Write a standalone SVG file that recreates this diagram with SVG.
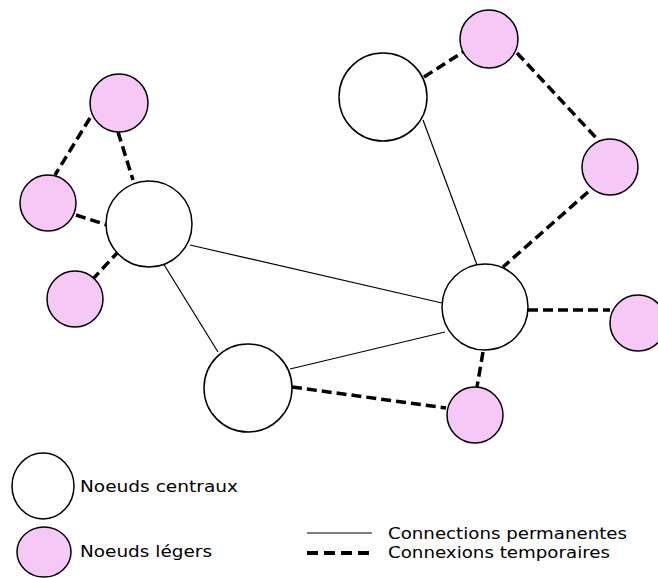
<svg xmlns="http://www.w3.org/2000/svg" width="658" height="578" viewBox="0 0 658 578">
<style>
.central{fill:#ffffff;stroke:#000;stroke-width:1.5}
.light{fill:#f5c8f5;stroke:#000;stroke-width:1.5}
.perm{stroke:#000;stroke-width:1.2;fill:none}
.temp{stroke:#000;stroke-width:3.5;stroke-dasharray:10 5;fill:none}
text{font-family:"DejaVu Sans","Liberation Sans",sans-serif;font-size:15px;fill:#000}
</style>
<rect width="658" height="578" fill="#ffffff"/>
<g id="connectors">
<line class="perm" x1="190" y1="245" x2="442" y2="303"/>
<line class="perm" x1="163" y1="263" x2="218" y2="352"/>
<line class="perm" x1="290" y1="369" x2="445" y2="332"/>
<line class="perm" x1="423" y1="120" x2="477" y2="265"/>
<line class="temp" x1="90" y1="118" x2="55" y2="175"/>
<line class="temp" x1="118" y1="132" x2="133" y2="180"/>
<line class="temp" x1="76" y1="215" x2="107" y2="225"/>
<line class="temp" x1="92" y1="280" x2="118" y2="252"/>
<line class="temp" x1="424" y1="77" x2="463" y2="52"/>
<line class="temp" x1="517" y1="53" x2="600" y2="142"/>
<line class="temp" x1="588" y1="192" x2="503" y2="267"/>
<line class="temp" x1="528" y1="310" x2="610" y2="310"/>
<line class="temp" x1="483" y1="352" x2="477" y2="387"/>
<line class="temp" x1="292" y1="387" x2="446" y2="408"/>
</g>
<g id="C1"><circle class="central" cx="149" cy="224" r="43"/></g>
<g id="C2"><circle class="central" cx="383" cy="97" r="44"/></g>
<g id="C3"><circle class="central" cx="485" cy="307" r="43"/></g>
<g id="C4"><circle class="central" cx="248" cy="388" r="44"/></g>
<g id="P1"><circle class="light" cx="119" cy="103" r="29"/></g>
<g id="P2"><circle class="light" cx="48" cy="203" r="28"/></g>
<g id="P3"><circle class="light" cx="75" cy="299" r="28"/></g>
<g id="P4"><circle class="light" cx="489" cy="39" r="29"/></g>
<g id="P5"><circle class="light" cx="610" cy="167" r="28"/></g>
<g id="P6"><circle class="light" cx="638" cy="323" r="28"/></g>
<g id="P7"><circle class="light" cx="475" cy="415" r="28"/></g>
<g id="legend">
<ellipse class="central" cx="43" cy="486" rx="31" ry="33"/>
<text x="80" y="492" textLength="158" lengthAdjust="spacingAndGlyphs">Noeuds centraux</text>
<ellipse class="light" cx="44" cy="552" rx="27" ry="25"/>
<text x="80" y="557" textLength="132" lengthAdjust="spacingAndGlyphs">Noeuds légers</text>
<line class="perm" x1="307" y1="533" x2="372" y2="533"/>
<line x1="307" y1="553" x2="372" y2="553" stroke="#000" stroke-width="4" stroke-dasharray="11 6"/>
<text x="388" y="539" textLength="239" lengthAdjust="spacingAndGlyphs">Connections permanentes</text>
<text x="388" y="558" textLength="222" lengthAdjust="spacingAndGlyphs">Connexions temporaires</text>
</g>
</svg>
